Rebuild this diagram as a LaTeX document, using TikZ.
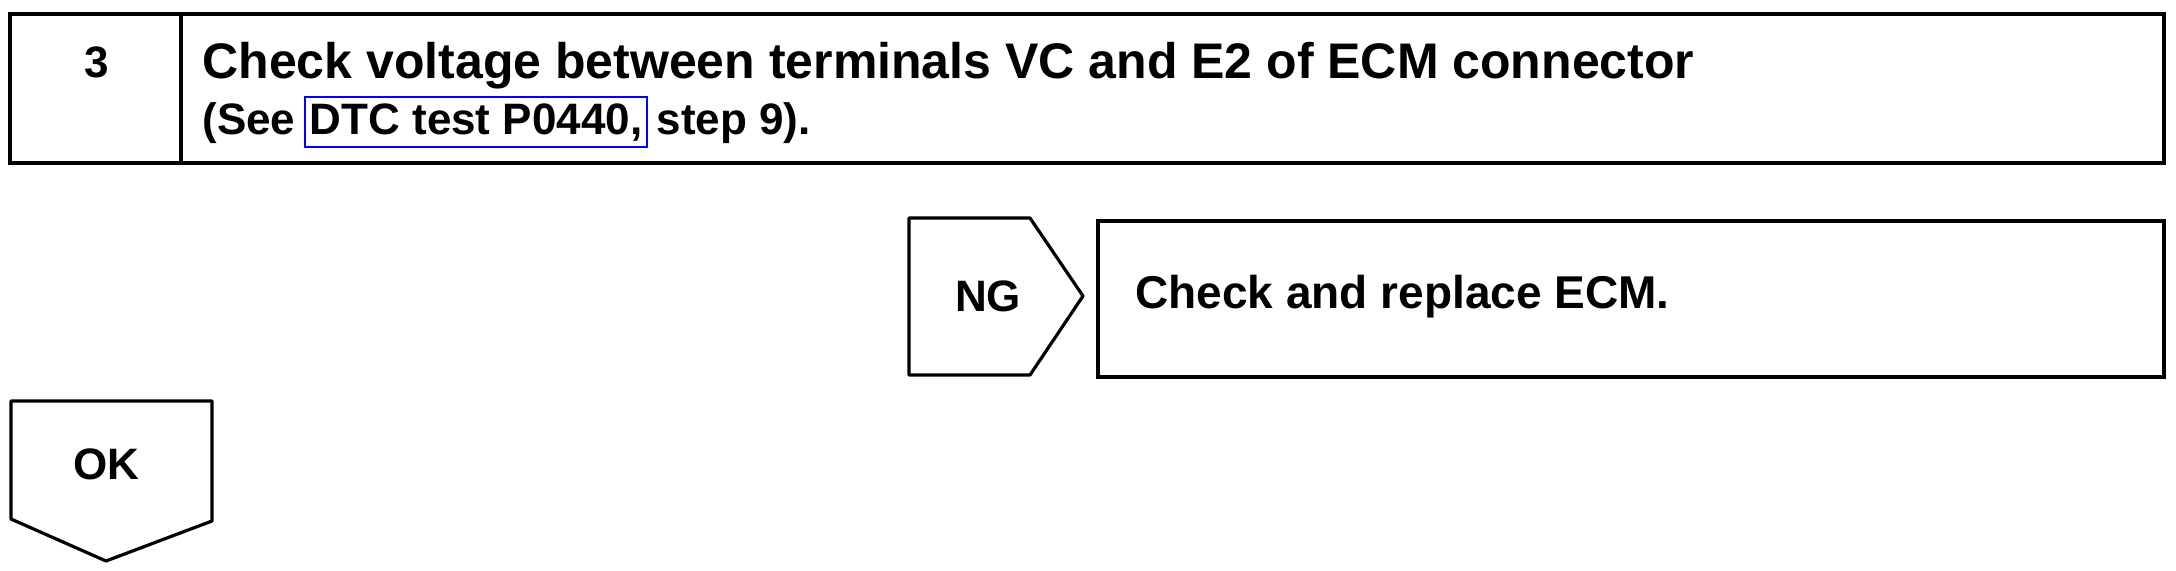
\documentclass[tikz,border=0pt]{standalone}
\usepackage{fontspec}
\setmainfont{Liberation Sans}
\begin{document}
\begin{tikzpicture}[x=0.5pt,y=-0.5pt,
  boxline/.style={line width=2pt,line join=miter},
  tagline/.style={line width=1.6pt,line join=round},
  big/.style={font=\bfseries\fontsize{25}{29}\selectfont,inner sep=0pt},
  mid/.style={font=\bfseries\fontsize{22}{26}\selectfont,inner sep=0pt},
  lab/.style={font=\bfseries\fontsize{22}{26}\selectfont,inner sep=0pt},
  labb/.style={font=\bfseries\fontsize{23}{27}\selectfont,inner sep=0pt}]
\useasboundingbox (0,0) rectangle (2176,570);
% header box
\draw[boxline] (10,14) rectangle (2164,163);
\draw[boxline] (181,14) -- (181,163);
\node[lab] (num) at (97,62) {3};
\node[big,anchor=base west] (title) at (202,78) {Check voltage between terminals VC and E2 of ECM connector};
\node[mid,anchor=base west] (s1) at (202,134) {(See};
\node[mid,anchor=base west,draw=blue,line width=1pt,inner xsep=2.5pt,inner ysep=3pt,xshift=4pt] (s2) at (s1.base east) {DTC test P0440,};
\node[mid,anchor=base west,xshift=4pt] (s3) at (s2.base east) {step 9).};
% NG tag
\draw[tagline] (909,218) -- (1030,218) -- (1083,296) -- (1030,375) -- (909,375) -- cycle;
\node[lab] (ng) at (988,296) {NG};
% ECM box
\draw[boxline] (1098,221) rectangle (2164,377);
\node[labb,anchor=west] (ecm) at (1135,297) {Check and replace ECM.};
% OK tag
\draw[tagline] (11,401) -- (212,401) -- (212,521) -- (106,561) -- (11,519) -- cycle;
\node[lab] (ok) at (106,464) {OK};
\end{tikzpicture}
\end{document}
